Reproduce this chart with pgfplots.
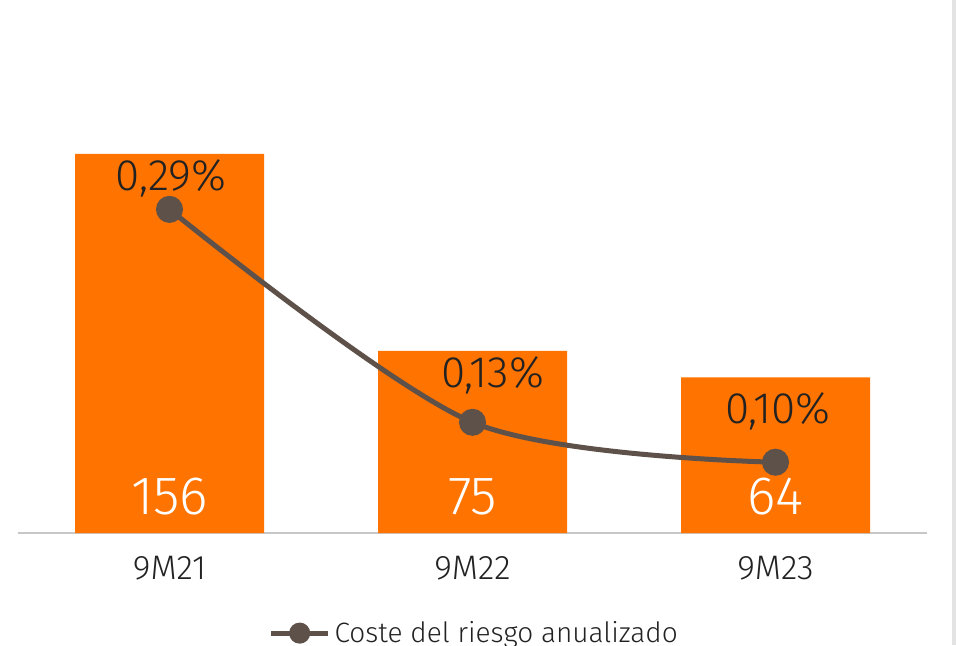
\documentclass[border=0pt]{standalone}
\usepackage{pgfplots}
\pgfplotsset{compat=1.18}
\usepackage{fontspec}
\setmainfont{Fira Sans Light}
\definecolor{barorange}{HTML}{FF7300}
\definecolor{lineb}{HTML}{5E5149}
\definecolor{txt}{HTML}{222222}
\begin{document}
\begin{tikzpicture}
% bars: coste absoluto
\begin{axis}[
    name=main,
    scale only axis,
    width=454.5pt, height=251.5pt,
    xmin=-0.5, xmax=2.5,
    ymin=0, ymax=207,
    axis x line=bottom,
    axis y line=none,
    axis line style={draw=black!22, line width=1pt, -},
    xtick={0,1,2},
    xticklabels={9M21,9M22,9M23},
    major tick length=0pt,
    xticklabel style={font=\fontsize{17}{19}\selectfont, text=txt, yshift=-8pt},
    ytick=\empty,
    clip=false,
]
\addplot[ybar, bar width=94.5pt, fill=barorange, draw=none] coordinates {(0,156) (1,75) (2,64)};
\node[white, font=\fontsize{27}{30}\selectfont, anchor=center] at (axis cs:0,15) {156};
\node[white, font=\fontsize{27}{30}\selectfont, anchor=center] at (axis cs:1,15) {75};
\node[white, font=\fontsize{27}{30}\selectfont, anchor=center] at (axis cs:2,15) {64};
\end{axis}
% linea: coste del riesgo anualizado (%)
\begin{axis}[
    scale only axis,
    width=454.5pt, height=251.5pt,
    xmin=-0.5, xmax=2.5,
    ymin=0.0468, ymax=0.4248,
    axis lines=none,
    clip=false,
    legend style={at={(0.503,-0.199)}, anchor=center, draw=none, fill=none,
        font=\fontsize{14}{16}\selectfont, text=txt, inner xsep=0pt},
    legend image code/.code={
        \draw[lineb, line width=2.5pt] (-0.05cm,0cm) -- (0.95cm,0cm);
        \fill[lineb] (0.45cm,0cm) circle (4pt);
    },
]
\addplot[lineb, line width=2.5pt, smooth, mark=*, mark size=5.5pt,
    mark options={fill=lineb, draw=lineb}] coordinates {(0,0.29) (1,0.13) (2,0.10)};
\addlegendentry{Coste del riesgo anualizado}
\node[txt, font=\fontsize{22}{25}\selectfont] at (axis cs:0.005,0.313) {0,29\%};
\node[txt, font=\fontsize{22}{25}\selectfont] at (axis cs:1.066,0.165) {0,13\%};
\node[txt, font=\fontsize{22}{25}\selectfont] at (axis cs:2.008,0.138) {0,10\%};
\end{axis}
\fill[black!11] ([xshift=467pt,yshift=-56pt]main.south west) rectangle ([xshift=469pt,yshift=266.5pt]main.south west);
\pgfresetboundingbox
\path ([xshift=-9pt,yshift=-56pt]main.south west) rectangle ([xshift=469pt,yshift=266.5pt]main.south west);
\end{tikzpicture}
\end{document}
